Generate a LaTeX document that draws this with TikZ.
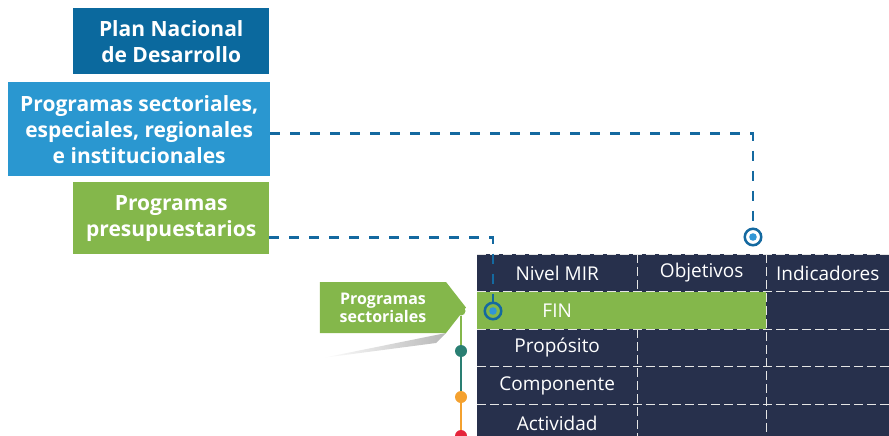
\documentclass[tikz,border=0pt]{standalone}
\usepackage{fontspec}
\setmainfont{Open Sans}
\usepackage{xcolor}
\usetikzlibrary{shapes,shapes.symbols,positioning,calc,arrows.meta}

\definecolor{pndblue}{HTML}{0B699E}
\definecolor{secblue}{HTML}{2A97D0}
\definecolor{ppgreen}{HTML}{84B74B}
\definecolor{mirnavy}{HTML}{27304C}
\definecolor{linkblue}{HTML}{1469A0}
\definecolor{dotblue}{HTML}{3196D6}
\definecolor{dotteal}{HTML}{2A7F73}
\definecolor{dotorange}{HTML}{F4A12F}
\definecolor{dotred}{HTML}{E5243B}

\tikzset{
  planbox/.style={anchor=north west, inner sep=0pt, text=white, align=center,
    font=\fontsize{21}{26}\selectfont\bfseries},
  link/.style={linkblue, line width=2.6pt, dash pattern=on 10pt off 10pt},
  target/.style={circle, draw=linkblue, line width=2.5pt, minimum size=16.5pt, inner sep=0pt},
  mircell/.style={anchor=north west, fill=mirnavy, inner sep=0pt, minimum height=37.5pt,
    text=white, font=\fontsize{19}{20}\selectfont},
  sep/.style={white!80!gray, line width=1pt, dash pattern=on 9pt off 4pt},
  dot/.style={circle, minimum size=12pt, inner sep=0pt}
}

\begin{document}
\begin{tikzpicture}[x=1pt, y=-1pt]
    \useasboundingbox (0,0) rectangle (889,436);
    \clip (0,0) rectangle (889,436);

    % Boxes
    \node[planbox, fill=pndblue, minimum width=196pt, minimum height=66pt] (pnd) at (73,8)
        {Plan Nacional\\de Desarrollo};
    \node[planbox, fill=secblue, minimum width=262pt, minimum height=94pt] (sec) at (8,82)
        {Programas sectoriales,\\especiales, regionales\\e institucionales};
    \node[planbox, fill=ppgreen, minimum width=196pt, minimum height=72pt] (pres) at (73,182)
        {Programas\\presupuestarios};

    % MIR table
    \node[mircell, minimum width=160pt] (h1) at (477,254) {Nivel MIR};
    \node[mircell, minimum width=129pt] (h2) at (637,254) {Objetivos};
    \node[mircell, minimum width=123pt] (h3) at (766,254) {Indicadores};
    \node[mircell, fill=ppgreen, minimum width=289pt] (fin) at (477,291.5) {};
    \node[text=white, font=\fontsize{19}{20}\selectfont] at (fin.center -| h1.center) {FIN};
    \node[mircell, minimum width=123pt] (fin3) at (766,291.5) {};
    \foreach \lab [count=\i] in {Propósito,Componente,Actividad} {
        \pgfmathsetmacro{\ytop}{291.5+37.5*\i}
        \node[mircell, minimum width=160pt] (r\i a) at (477,\ytop) {\lab};
        \node[mircell, minimum width=129pt] (r\i b) at (637,\ytop) {};
        \node[mircell, minimum width=123pt] (r\i c) at (766,\ytop) {};
    }
    \foreach \y in {254,291.5,329,366.5,404}
        \draw[sep] (477,\y) -- (889,\y);
    \draw[sep] (637,254) -- (637,291.5);
    \draw[sep] (637,329) -- (637,441);
    \draw[sep] (766,254) -- (766,441);

    % Targets
    \node[target] (tgtA) at (753,237) {};
    \node[target] (tgtB) at (493,311) {};
    \fill[dotblue] (tgtA.center) circle (3.8);
    \fill[dotblue] (tgtB.center) circle (3.8);
    \draw[link] ([yshift=-4pt]sec.east) -| (tgtA.north);
    \draw[link] ([yshift=-19pt]pres.east) -| (tgtB.north);

    % Sector flag
    \shade[left color=white, right color=black!28] (322,358) -- (446,333) -- (436,343) -- cycle;
    \node[signal, signal to=east, signal pointer angle=104, fill=ppgreen, minimum width=146pt,
        minimum height=51pt, inner sep=0pt, text=white, align=center,
        font=\fontsize{16}{18}\selectfont\bfseries] (flag) at (383,307.5) {Programas\\sectoriales};
    \node[dot, fill=ppgreen, minimum size=9pt] (d0) at (461,311) {};
    \node[dot, fill=dotteal] (d1) at (461,351) {};
    \node[dot, fill=dotorange] (d2) at (461,397) {};
    \node[dot, fill=dotred] (d3) at (461,436) {};
    \draw[ppgreen, line width=2pt] (d0) -- (d1);
    \draw[dotteal, line width=2pt] (d1) -- (d2);
    \draw[dotorange, line width=2pt] (d2) -- (d3);
\end{tikzpicture}
\end{document}
